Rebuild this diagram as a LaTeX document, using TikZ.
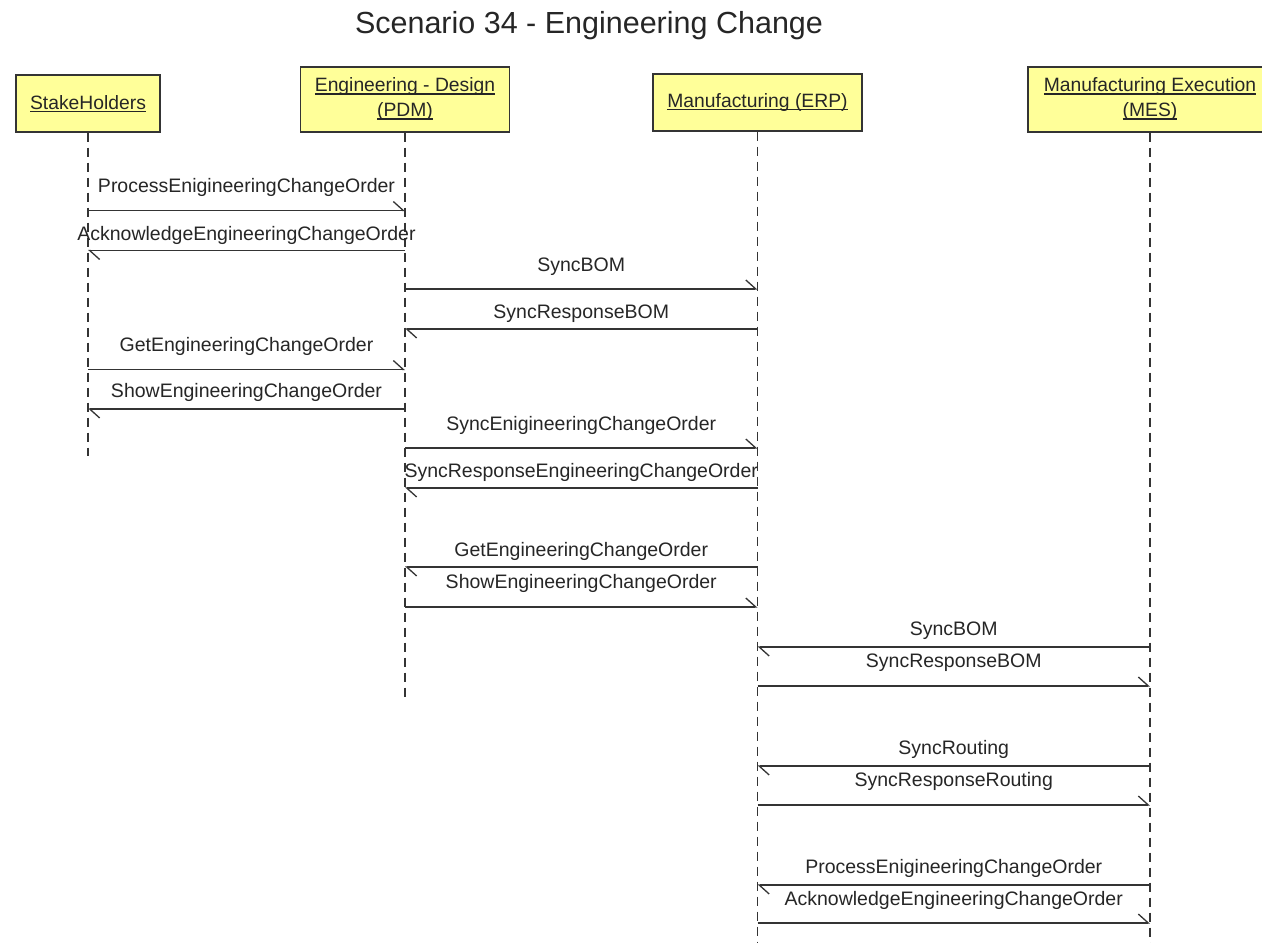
\documentclass[tikz,border=0pt]{standalone}
\usepackage{fontspec}
\setmainfont{Liberation Sans}
\usetikzlibrary{arrows.meta,calc}

\definecolor{boxfill}{RGB}{255,255,153}
\definecolor{ink}{RGB}{38,38,38}
\definecolor{wire}{RGB}{52,52,52}

% underlined participant name
\newcommand\undl[1]{\setbox0=\hbox{#1}\rlap{\rule[-2.6pt]{\wd0}{1.1pt}}\box0}
% message: from lifeline, to lifeline, y of arrow, label lift, label
\newcommand\seqmsg[5]{\draw[msg] ($(#1)+(0,#3)$) -- node[msglabel, pos=0.5, yshift=#4pt]{#5} ($(#2)+(0,#3)$);}

\begin{document}
\begin{tikzpicture}[x=1pt,y=-1pt,
  actor/.style={draw=wire, line width=1.4pt, fill=boxfill, inner sep=0pt,
    align=center, text=ink, font=\fontsize{19.3}{25}\selectfont},
  lifeline/.style={draw=wire, line width=1.3pt, dash pattern=on 9pt off 6pt},
  msg/.style={draw=wire, line width=1.3pt,
    -{Straight Barb[left, length=10pt, width=18pt]}},
  msglabel/.style={anchor=base, text=ink, inner sep=0pt,
    font=\fontsize{19.5}{23}\selectfont},
  heading/.style={anchor=base, text=ink, inner sep=0pt,
    font=\fontsize{30.5}{36}\selectfont}]

\useasboundingbox (0,0) rectangle (1262,943);
\clip (0,0) rectangle (1262,943);
\fill[white] (0,0) rectangle (1262,943);

% lifeline axes
\coordinate (Ls) at (88,0);
\coordinate (Lp) at (405,0);
\coordinate (Le) at (757.5,0);
\coordinate (Lm) at (1150,0);

% title
\node[heading] (title) at (589,33) {Scenario 34 - Engineering Change};

% participants
\node[actor, minimum width=144pt, minimum height=57pt] (stake)
  at ($(Ls)+(0,103.5)$) {\undl{StakeHolders}};
\node[actor, minimum width=209pt, minimum height=65pt] (pdm)
  at ($(Lp)+(0,99.5)$) {\undl{Engineering - Design}\\\undl{(PDM)}};
\node[actor, minimum width=209pt, minimum height=57pt] (erp)
  at ($(Le)+(0,102.5)$) {\undl{Manufacturing (ERP)}};
\node[actor, minimum width=244pt, minimum height=65pt] (mes)
  at ($(Lm)+(0,99.5)$) {\undl{Manufacturing Execution}\\\undl{(MES)}};

% lifelines
\coordinate (stakeEnd) at ($(Ls)+(0,456)$);
\coordinate (pdmEnd) at ($(Lp)+(0,702)$);
\coordinate (erpEnd) at ($(Le)+(0,945)$);
\coordinate (mesEnd) at ($(Lm)+(0,945)$);
\draw[lifeline] (stake.south) -- (stakeEnd);
\draw[lifeline] (pdm.south) -- (pdmEnd);
\draw[lifeline] (erp.south) -- (erpEnd);
\draw[lifeline] (mes.south) -- (mesEnd);

% messages
\seqmsg{Ls}{Lp}{210.5}{18.5}{ProcessEnigineeringChangeOrder}
\seqmsg{Lp}{Ls}{250.5}{10.5}{AcknowledgeEngineeringChangeOrder}
\seqmsg{Lp}{Le}{289}{18}{SyncBOM}
\seqmsg{Le}{Lp}{329}{11}{SyncResponseBOM}
\seqmsg{Ls}{Lp}{369.5}{18.5}{GetEngineeringChangeOrder}
\seqmsg{Lp}{Ls}{409}{12}{ShowEngineeringChangeOrder}
\seqmsg{Lp}{Le}{448}{18}{SyncEnigineeringChangeOrder}
\seqmsg{Le}{Lp}{488}{11}{SyncResponseEngineeringChangeOrder}
\seqmsg{Le}{Lp}{567}{11}{GetEngineeringChangeOrder}
\seqmsg{Lp}{Le}{607}{19}{ShowEngineeringChangeOrder}
\seqmsg{Lm}{Le}{647}{12}{SyncBOM}
\seqmsg{Le}{Lm}{686}{19}{SyncResponseBOM}
\seqmsg{Lm}{Le}{766}{12}{SyncRouting}
\seqmsg{Le}{Lm}{805}{19}{SyncResponseRouting}
\seqmsg{Lm}{Le}{885}{12}{ProcessEnigineeringChangeOrder}
\seqmsg{Le}{Lm}{923}{18}{AcknowledgeEngineeringChangeOrder}

\end{tikzpicture}
\end{document}
